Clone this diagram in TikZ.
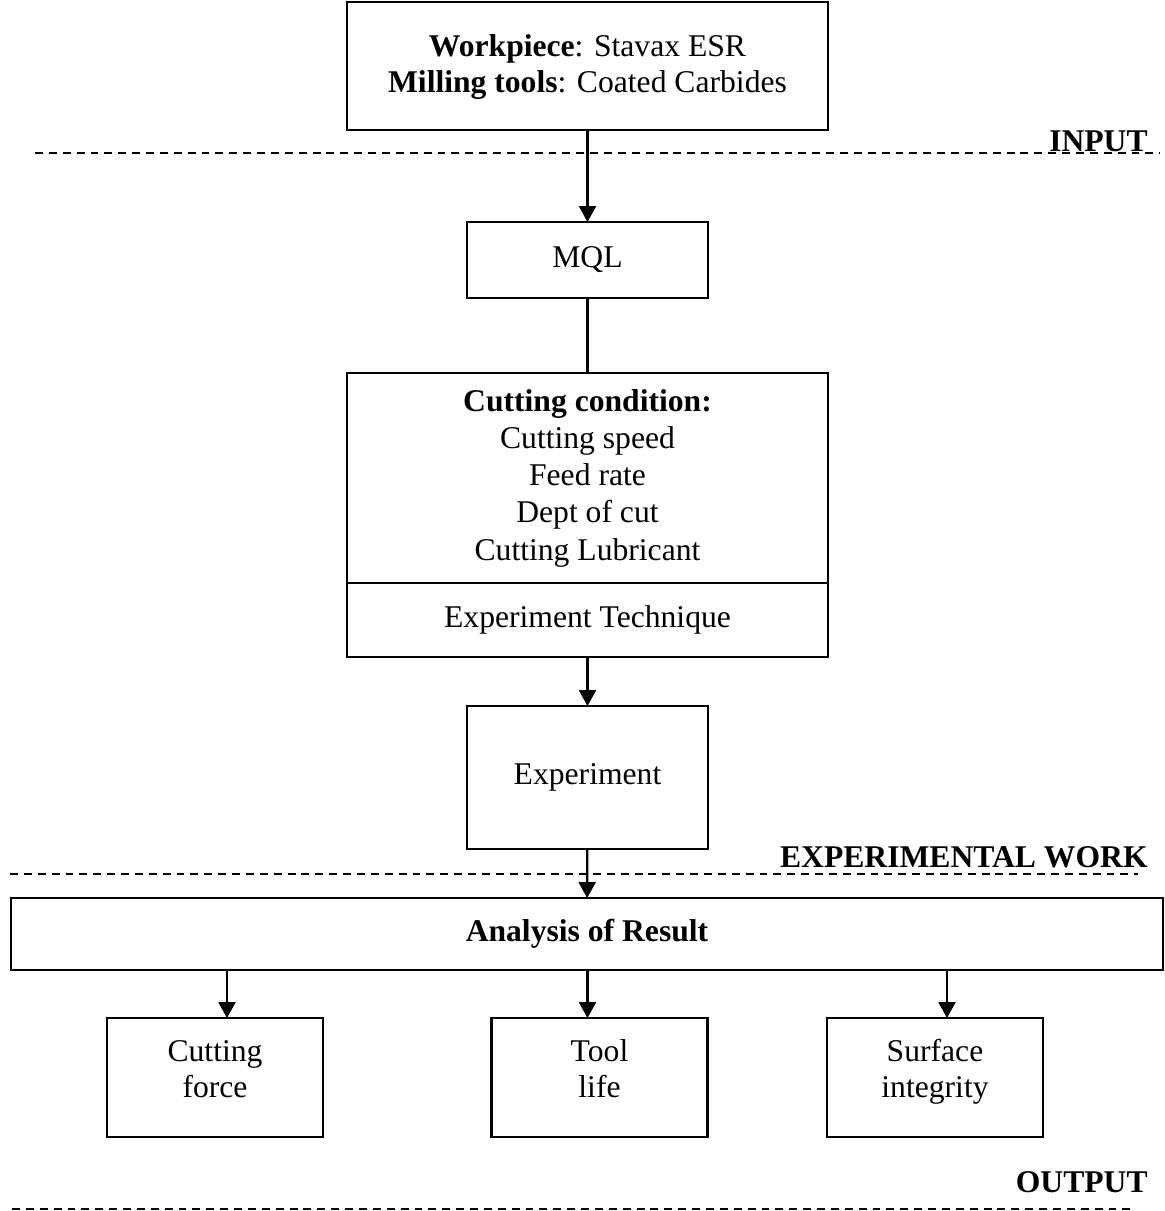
\documentclass[tikz,border=0pt]{standalone}
\usepackage{fontspec}
\setmainfont{Liberation Serif}
\usetikzlibrary{positioning,arrows.meta}
\tikzset{
    >={Triangle[width=3.4mm,length=3.2mm]},
    box/.style={
        rectangle,
        draw=black, line width=1.3pt,
        align=center,
        inner sep=2pt,
        outer sep=0pt,
        font=\fontsize{18}{20.5}\selectfont
    },
    line/.style={draw, line width=1.3pt},
    sep line/.style={draw, line width=1.2pt, dash pattern=on 4.5pt off 3.4pt},
    stage/.style={
        anchor=base east,
        inner sep=0pt,
        font=\fontsize{18}{20.5}\selectfont\bfseries
    }
}
\begin{document}
\begin{tikzpicture}[x=0.02cm, y=-0.02cm,
            wide/.style={box, minimum width=9.62cm},
            narrow/.style={box, minimum width=4.82cm},
            result/.style={box, minimum width=4.32cm, minimum height=2.38cm, text depth=10pt}]
    \useasboundingbox (0,0) rectangle (1164,1211);

    % input
    \node[wide, minimum height=2.56cm, text depth=3pt] (material) at (587.5,66)
        {\textbf{Workpiece}: Stavax ESR\\ \textbf{Milling tools}: Coated Carbides};
    \draw[sep line] (35,153) -- (1160,153);
    \node[stage] (input) at (1148,151) {INPUT};

    % experimental work
    \node[narrow, minimum height=1.52cm] (mql) at (587.5,260) {MQL};
    \node[wide, minimum height=4.2cm, font=\fontsize{18}{21.2}\selectfont] (condition) at (587.5,478)
        {\textbf{Cutting condition:}\\Cutting speed\\Feed rate\\Dept of cut\\Cutting Lubricant};
    \node[wide, minimum height=1.48cm, below=0pt of condition] (technique) {Experiment Technique};
    \node[narrow, minimum height=2.86cm] (experiment) at (587.5,777.5) {Experiment};
    \draw[sep line] (10,874) -- (1138,874);
    \node[stage] (work) at (1148,867) {EXPERIMENTAL WORK};

    % output
    \node[box, minimum width=23.04cm, minimum height=1.44cm] (analysis) at (587,934)
        {\textbf{Analysis of Result}};
    \node[result] (force) at (215,1077.5) {Cutting\\force};
    \node[result] (life) at (599.5,1077.5) {Tool\\life};
    \node[result] (surface) at (935,1077.5) {Surface\\integrity};
    \draw[sep line] (12,1209) -- (1132,1209);
    \node[stage] (output) at (1148,1192) {OUTPUT};

    \draw[line,->] (material) -- (mql);
    \draw[line] (mql) -- (condition);
    \draw[line,->] (technique) -- (experiment);
    \draw[line,->] (experiment) -- (analysis);

    \coordinate (to force) at (227,0);
    \coordinate (to life) at (587.5,0);
    \coordinate (to surface) at (947,0);
    \draw[line,->] (analysis.south -| to force) -- (force.north -| to force);
    \draw[line,->] (analysis.south -| to life) -- (life.north -| to life);
    \draw[line,->] (analysis.south -| to surface) -- (surface.north -| to surface);
\end{tikzpicture}
\end{document}
